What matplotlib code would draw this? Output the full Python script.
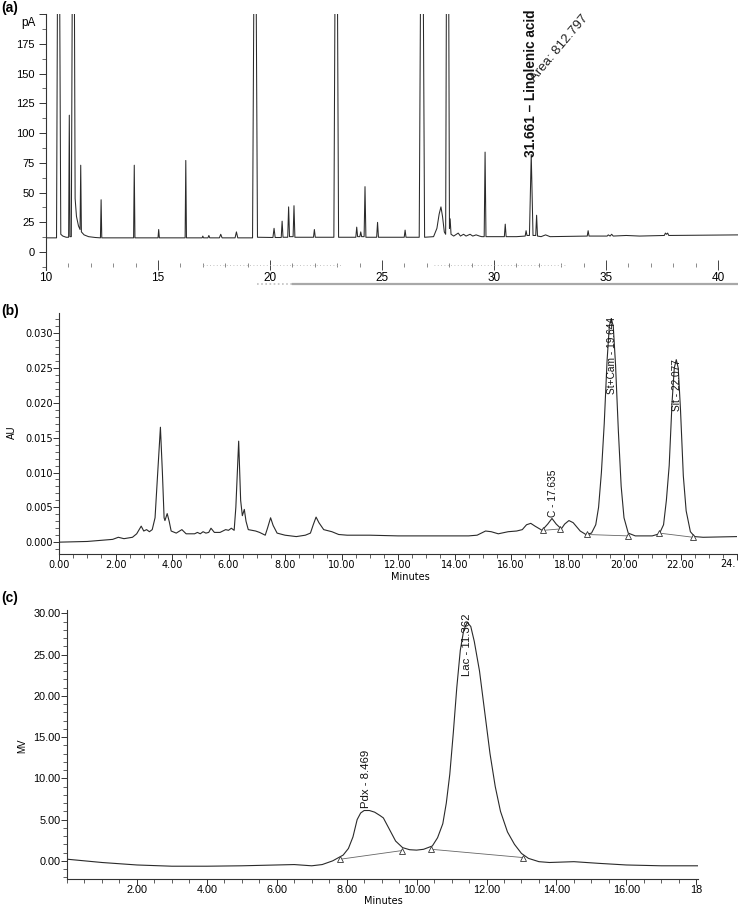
import matplotlib
matplotlib.use("Agg")
import matplotlib.pyplot as plt
from matplotlib.ticker import MultipleLocator, FixedLocator, FixedFormatter, FuncFormatter
from matplotlib.lines import Line2D

W, H = 738, 906

# ---------------- Panel (a): GC trace (minutes, pA) ----------------
gc_time = [10.00, 10.47, 10.52, 10.60, 10.66, 10.75, 10.90, 11.01, 11.04, 11.07,
           11.13, 11.18, 11.26, 11.30, 11.36, 11.45, 11.52, 11.55, 11.58, 11.70,
           11.90, 12.20, 12.43, 12.46, 12.49, 13.91, 13.94, 13.97, 15.00, 15.03,
           15.06, 16.21, 16.24, 16.27, 16.97, 17.00, 17.03, 17.23, 17.27, 17.31,
           17.74, 17.80, 17.86, 18.44, 18.50, 18.56, 19.22, 19.29, 19.37, 19.44,
           20.13, 20.18, 20.23, 20.50, 20.54, 20.58, 20.79, 20.83, 20.87, 20.96,
           21.03, 21.07, 21.11, 21.94, 21.98, 22.02, 22.85, 22.91, 23.00, 23.06,
           23.83, 23.87, 23.91, 24.01, 24.05, 24.09, 24.20, 24.24, 24.28, 24.76,
           24.80, 24.84, 25.99, 26.03, 26.07, 26.66, 26.73, 26.83, 26.90, 27.30,
           27.45, 27.55, 27.63, 27.70, 27.78, 27.84, 27.88, 27.97, 28.01, 28.04,
           28.08, 28.20, 28.40, 28.50, 28.64, 28.75, 28.93, 29.05, 29.20, 29.35,
           29.45, 29.56, 29.60, 29.64, 30.46, 30.50, 30.54, 31.00, 31.39, 31.43,
           31.47, 31.58, 31.66, 31.74, 31.86, 31.90, 31.94, 32.10, 32.30, 32.50,
           33.50, 34.16, 34.20, 34.24, 35.05, 35.10, 35.18, 35.25, 35.32, 35.90,
           36.50, 37.60, 37.65, 37.70, 37.75, 37.80, 41.00]
gc_signal = [12, 12, 260, 260, 15, 13.5, 12.5, 12.5, 115, 13,
             13, 260, 260, 45, 30, 22, 19, 73, 17, 14.5,
             13, 12.3, 12, 44, 12, 12, 73, 12, 12, 19,
             12, 12, 77, 12, 12, 13.5, 12, 12, 14, 12,
             12, 15, 12, 12, 17, 12, 12, 260, 260, 12.5,
             12.3, 20, 12.3, 12.3, 26, 12.5, 12.5, 38, 13, 13,
             13, 39, 12.5, 12.5, 19, 12.5, 12.5, 260, 260, 12.5,
             12.5, 21, 13, 13, 17, 13, 13, 55, 12.5, 12.5,
             25, 12.5, 12.5, 18.5, 12.5, 12.5, 260, 260, 12.5, 13,
             20, 32, 38, 30, 17, 15, 260, 260, 20, 28,
             15, 13.5, 16, 13.5, 15, 13.5, 15, 13.5, 14.5, 13.5,
             13, 13, 84, 13, 13, 23.5, 13, 13, 13.5, 18,
             14, 14, 82, 14, 14, 31, 13.5, 13, 14.5, 13,
             13.3, 13.5, 18, 13.5, 13.5, 14.5, 13.5, 15, 13.5, 14,
             13.5, 14, 16, 15, 16, 14, 14.5]
a_yticks = [0, 25, 50, 75, 100, 125, 150, 175]
a_xticks = [10, 15, 20, 25, 30, 35, 40]
a_peak_label = "31.661 \u2013 Linolenic acid"
a_peak_rt = 31.661
a_area_label = "Area: 812.797"

# ---------------- Panel (b): HPLC trace (minutes, AU) ----------------
b_time = [0.0, 1.0, 1.9, 2.1, 2.3, 2.6, 2.75, 2.91, 3.0, 3.1,
          3.2, 3.3, 3.4, 3.48, 3.59, 3.66, 3.72, 3.75, 3.83, 3.9,
          3.97, 4.15, 4.35, 4.5, 4.8, 4.9, 5.0, 5.1, 5.2, 5.3,
          5.38, 5.5, 5.7, 5.9, 6.0, 6.1, 6.2, 6.26, 6.36, 6.43,
          6.49, 6.56, 6.62, 6.7, 6.96, 7.1, 7.3, 7.38, 7.49, 7.58,
          7.72, 8.0, 8.4, 8.72, 8.9, 9.0, 9.1, 9.2, 9.37, 9.66,
          9.9, 10.2, 11.0, 12.0, 14.5, 14.8, 15.1, 15.3, 15.55, 15.9,
          16.2, 16.4, 16.55, 16.7, 16.85, 17.1, 17.3, 17.45, 17.6, 17.78,
          17.9, 18.05, 18.2, 18.45, 18.65, 18.85, 19.0, 19.1, 19.2, 19.3,
          19.4, 19.48, 19.55, 19.62, 19.7, 19.8, 19.9, 20.0, 20.15, 20.4,
          21.0, 21.25, 21.4, 21.5, 21.6, 21.7, 21.78, 21.85, 21.92, 22.0,
          22.1, 22.2, 22.35, 22.5, 22.8, 24.0]
b_signal = [0.0000, 0.0001, 0.0004, 0.0007, 0.0005, 0.0007, 0.0012, 0.0023, 0.0016, 0.0018,
            0.0015, 0.0018, 0.0035, 0.0090, 0.0165, 0.0100, 0.0035, 0.0031, 0.0041, 0.0030,
            0.0016, 0.0013, 0.0018, 0.0012, 0.0012, 0.0014, 0.0012, 0.0015, 0.0013, 0.0014,
            0.0020, 0.0014, 0.0014, 0.0018, 0.0017, 0.0020, 0.0017, 0.0050, 0.0145, 0.0060,
            0.0038, 0.0047, 0.0030, 0.0018, 0.0016, 0.0014, 0.0010, 0.0020, 0.0035, 0.0024,
            0.0013, 0.0010, 0.0008, 0.0010, 0.0013, 0.0025, 0.0036, 0.0028, 0.0018, 0.0015,
            0.0011, 0.0010, 0.0010, 0.0009, 0.0009, 0.0010, 0.0016, 0.0015, 0.0012, 0.0015,
            0.0016, 0.0018, 0.0025, 0.0027, 0.0023, 0.0017, 0.0026, 0.0034, 0.0026, 0.0019,
            0.0026, 0.0031, 0.0028, 0.0016, 0.0011, 0.0013, 0.0025, 0.0050, 0.0100, 0.0170,
            0.0260, 0.0310, 0.0321, 0.0310, 0.0255, 0.0160, 0.0080, 0.0035, 0.0013, 0.0009,
            0.0009, 0.0012, 0.0025, 0.0060, 0.0110, 0.0200, 0.0250, 0.0262, 0.0250, 0.0190,
            0.0095, 0.0045, 0.0015, 0.0008, 0.0007, 0.0008]
b_int_time = [17.15, 17.75, 18.68, 20.15, 21.25, 22.45]
b_int_signal = [0.0017, 0.0019, 0.0011, 0.0009, 0.0013, 0.0007]
b_labels = ["C - 17.635", "St+Cam - 19.644", "Sit - 22.077"]
b_label_x = [17.5, 19.58, 21.86]
b_label_y = [0.0036, 0.0323, 0.0263]
b_label_va = ["bottom", "top", "top"]
b_last_xlabel = "24."

# ---------------- Panel (c): trace (minutes, MV) ----------------
c_time = [0.0, 0.5, 1.0, 2.0, 3.0, 4.0, 5.0, 6.0, 6.5, 7.0,
          7.3, 7.6, 7.9, 8.05, 8.18, 8.3, 8.4, 8.5, 8.65, 8.8,
          8.95, 9.05, 9.25, 9.4, 9.6, 9.8, 10.0, 10.2, 10.45, 10.6,
          10.75, 10.85, 10.95, 11.05, 11.15, 11.25, 11.35, 11.45, 11.55, 11.65,
          11.8, 11.95, 12.1, 12.25, 12.4, 12.6, 12.8, 13.0, 13.2, 13.5,
          13.8, 14.5, 15.2, 16.0, 17.0, 18.05]
c_signal = [0.2, 0.0, -0.2, -0.5, -0.65, -0.65, -0.6, -0.5, -0.45, -0.6,
            -0.45, 0.0, 0.7, 1.5, 2.9, 5.0, 5.8, 6.1, 6.1, 5.9,
            5.5, 5.2, 3.6, 2.4, 1.6, 1.35, 1.3, 1.4, 1.8, 2.8,
            4.5, 7.0, 10.5, 15.5, 21.0, 25.5, 28.0, 28.9, 28.4, 26.6,
            23.0, 18.0, 13.0, 9.0, 6.0, 3.5, 2.0, 0.9, 0.3, -0.1,
            -0.2, -0.1, -0.3, -0.5, -0.6, -0.6]
c_int_time = [7.82, 9.59, 10.42, 13.04]
c_int_signal = [0.2, 1.25, 1.4, 0.4]
c_labels = ["Pdx - 8.469", "Lac - 11.362"]
c_label_x = [8.54, 11.45]
c_label_y = [6.4, 30.0]
c_label_va = ["bottom", "top"]
c_xticks = [2, 4, 6, 8, 10, 12, 14, 16, 18]
c_xticklabels = ["2.00", "4.00", "6.00", "8.00", "10.00", "12.00", "14.00", "16.00", "18"]

ARIAL = "Liberation Sans"
WIDE = "DejaVu Sans"
TRACE = "#2a2a2a"


def px_axes(left, top, right, bottom):
    return [left / W, 1 - bottom / H, (right - left) / W, (bottom - top) / H]


def ftext(x, y, s, **kw):
    fig.text(x / W, 1 - y / H, s, **kw)


fig = plt.figure(figsize=(W / 100, H / 100), dpi=100)
fig.patch.set_facecolor("white")

# ===== Panel (a) =====
ax = fig.add_axes(px_axes(46, 14, 738, 270))
ax.plot(gc_time, gc_signal, color=TRACE, lw=0.75)
ax.set_xlim(10, 40.89)
ax.set_ylim(-15, 200)
for s in ("top", "right"):
    ax.spines[s].set_visible(False)
ax.spines["left"].set_linewidth(0.8)
ax.spines["left"].set_color("#333333")
ax.spines["bottom"].set_position(("data", -11))
ax.spines["bottom"].set_color("none")
ax.yaxis.set_major_locator(FixedLocator(a_yticks + [200]))
ax.yaxis.set_major_formatter(FuncFormatter(lambda v, p: "" if v >= 200 else "%d" % v))
ax.yaxis.set_minor_locator(MultipleLocator(12.5))
ax.xaxis.set_major_locator(FixedLocator(a_xticks))
ax.xaxis.set_minor_locator(MultipleLocator(1))
ax.tick_params(axis="y", which="major", length=5, width=0.7, color="#333333",
               labelsize=8, pad=3)
ax.tick_params(axis="y", which="minor", length=3, width=0.6, color="#555555")
ax.tick_params(axis="x", which="major", direction="inout", length=7, width=0.7,
               color="#444444", labelsize=8.5, pad=1.5)
ax.tick_params(axis="x", which="minor", direction="inout", length=3, width=0.6,
               color="#777777")
for lab in ax.get_xticklabels() + ax.get_yticklabels():
    lab.set_fontfamily(ARIAL)
ax.plot([17.0, 23.2], [-11, -11], color="#b0b0b0", lw=0.6, ls=(0, (1, 3)), clip_on=False)
ax.plot([27.3, 33.2], [-11, -11], color="#b0b0b0", lw=0.6, ls=(0, (1, 3)), clip_on=False)
ax.text(a_peak_rt, 80, a_peak_label, rotation=90, ha="center", va="bottom",
        fontsize=9.8, fontweight="bold", family=ARIAL, color="#111111")
ax.text(31.92, 141, a_area_label, rotation=50, rotation_mode="anchor",
        ha="left", va="bottom", fontsize=9.5, family=ARIAL, color="#222222")
ftext(28, 23, "pA", ha="center", va="center", fontsize=8.5, family=ARIAL)
ftext(1, 8, "(a)", ha="left", va="center", fontsize=10, fontweight="bold", family=ARIAL)
fig.add_artist(Line2D([257 / W, 293 / W], [1 - 284 / H] * 2, color="#c0c0c0",
                      lw=1.2, ls=(0, (1, 1.5))))
fig.add_artist(Line2D([293 / W, 1.0], [1 - 284 / H] * 2, color="#a8a8a8", lw=1.6))

# ===== Panel (b) =====
bx = fig.add_axes(px_axes(59, 313, 737, 554))
bx.plot(b_time, b_signal, color=TRACE, lw=0.8)
bx.plot(b_int_time[0:2], b_int_signal[0:2], color="#666666", lw=0.6)
bx.plot(b_int_time[2:4], b_int_signal[2:4], color="#666666", lw=0.6)
bx.plot(b_int_time[4:6], b_int_signal[4:6], color="#666666", lw=0.6)
bx.plot(b_int_time, b_int_signal, ls="none", marker="^", ms=4, mfc="white",
        mec="#333333", mew=0.6)
bx.set_xlim(0, 24.0)
bx.set_ylim(-0.0017, 0.0329)
for s in ("top", "right"):
    bx.spines[s].set_visible(False)
for s in ("left", "bottom"):
    bx.spines[s].set_linewidth(0.8)
    bx.spines[s].set_color("#333333")
bx.yaxis.set_major_locator(MultipleLocator(0.005))
bx.yaxis.set_major_formatter(FuncFormatter(lambda v, p: "%.3f" % v))
bx.yaxis.set_minor_locator(MultipleLocator(0.001))
bx.xaxis.set_major_locator(MultipleLocator(2))
bx.xaxis.set_major_formatter(FuncFormatter(lambda v, p: "" if v > 23 else "%.2f" % v))
bx.xaxis.set_minor_locator(MultipleLocator(0.5))
bx.tick_params(which="major", length=4, width=0.7, color="#333333", labelsize=7, pad=0.5)
bx.tick_params(which="minor", length=3, width=0.6, color="#444444")
for lab in bx.get_xticklabels() + bx.get_yticklabels():
    lab.set_fontfamily(WIDE)
for t, x, y, va in zip(b_labels, b_label_x, b_label_y, b_label_va):
    bx.text(x, y, t, rotation=90, ha="center", va=va, fontsize=7.3, family=ARIAL,
            color="#111111")
ftext(736, 564, b_last_xlabel, ha="right", va="center", fontsize=7, family=WIDE)
ftext(12, 432, "AU", rotation=90, ha="center", va="center", fontsize=7, family=ARIAL)
ftext(410, 577, "Minutes", ha="center", va="center", fontsize=7, family=WIDE)
ftext(1, 311, "(b)", ha="left", va="center", fontsize=10, fontweight="bold", family=ARIAL)

# ===== Panel (c) =====
cx = fig.add_axes(px_axes(67, 610, 698, 879))
cx.plot(c_time, c_signal, color=TRACE, lw=0.8)
cx.plot(c_int_time[0:2], c_int_signal[0:2], color="#666666", lw=0.6)
cx.plot(c_int_time[2:4], c_int_signal[2:4], color="#666666", lw=0.6)
cx.plot(c_int_time, c_int_signal, ls="none", marker="^", ms=4, mfc="white",
        mec="#333333", mew=0.6)
cx.set_xlim(0, 18.05)
cx.set_ylim(-2.2, 30.4)
for s in ("top", "right"):
    cx.spines[s].set_visible(False)
for s in ("left", "bottom"):
    cx.spines[s].set_linewidth(0.8)
    cx.spines[s].set_color("#333333")
cx.yaxis.set_major_locator(MultipleLocator(5))
cx.yaxis.set_major_formatter(FuncFormatter(lambda v, p: "%.2f" % v))
cx.yaxis.set_minor_locator(MultipleLocator(1))
cx.xaxis.set_major_locator(FixedLocator(c_xticks))
cx.xaxis.set_major_formatter(FixedFormatter(c_xticklabels))
cx.xaxis.set_minor_locator(MultipleLocator(0.5))
cx.tick_params(which="major", length=4, width=0.7, color="#333333", labelsize=7.8, pad=0.5)
cx.tick_params(which="minor", length=3, width=0.6, color="#444444")
for lab in cx.get_xticklabels() + cx.get_yticklabels():
    lab.set_fontfamily(ARIAL)
for t, x, y, va in zip(c_labels, c_label_x, c_label_y, c_label_va):
    cx.text(x, y, t, rotation=90, ha="center", va=va, fontsize=8.2, family=ARIAL,
            color="#111111")
ftext(22, 746, "MV", rotation=90, ha="center", va="center", fontsize=7, family=ARIAL)
ftext(383, 901, "Minutes", ha="center", va="center", fontsize=7, family=WIDE)
ftext(1, 598, "(c)", ha="left", va="center", fontsize=10, fontweight="bold", family=ARIAL)

fig.savefig("out.png", dpi=100, facecolor="white")
